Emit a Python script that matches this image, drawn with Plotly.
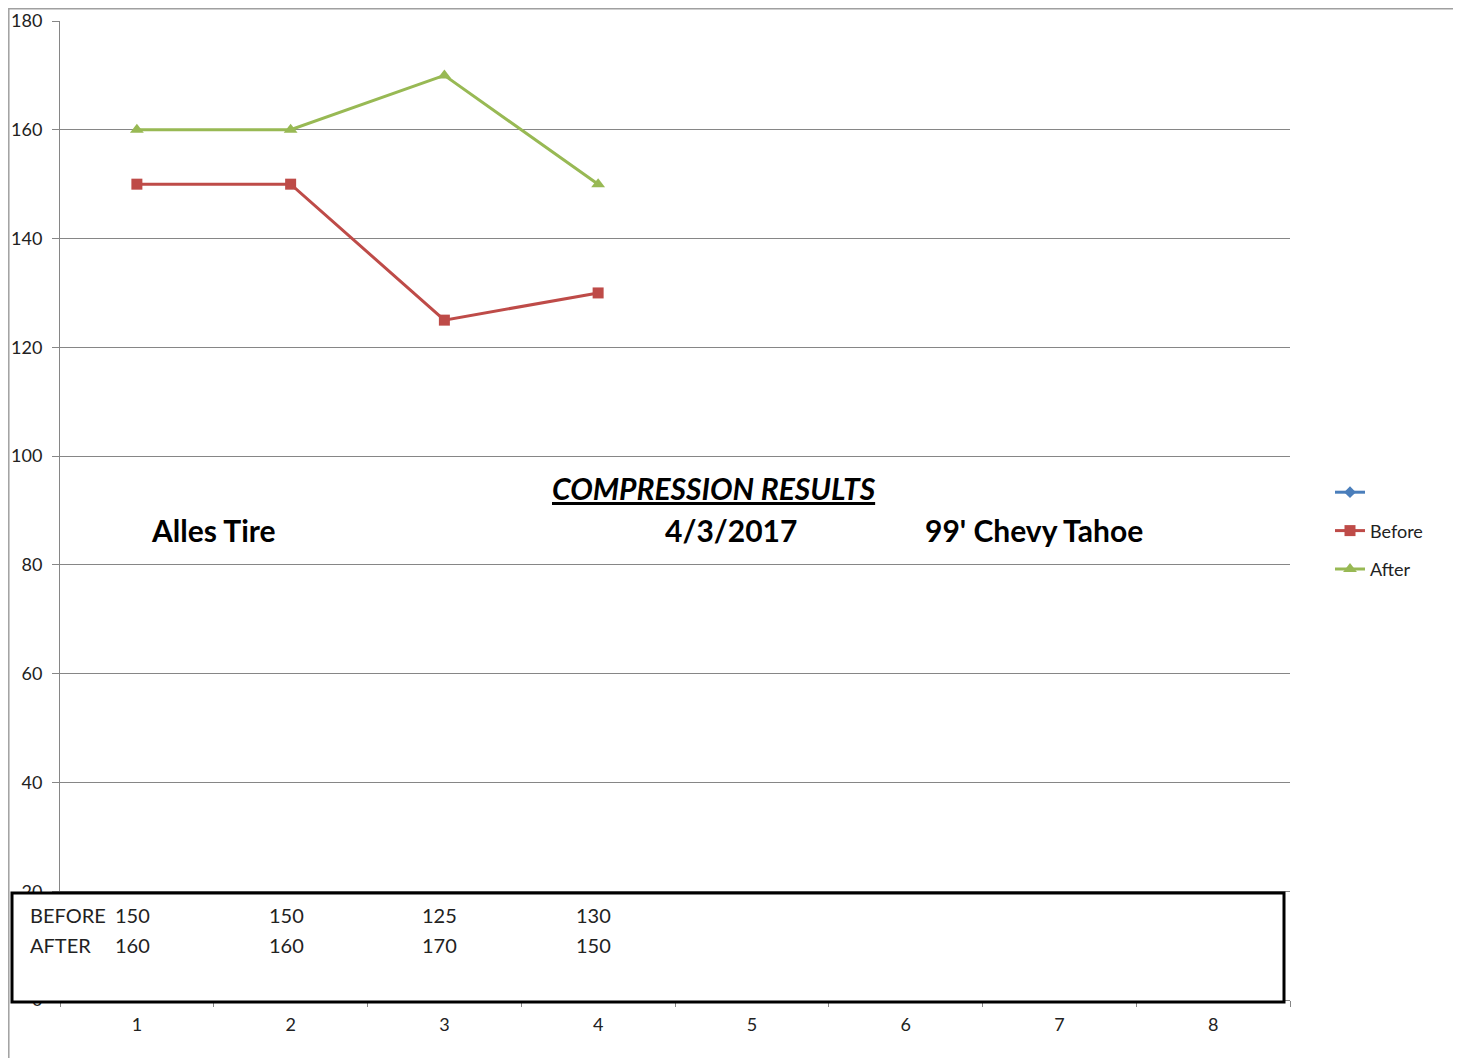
import plotly.graph_objects as go

cylinders = ["1", "2", "3", "4", "5", "6", "7", "8"]
before = [150, 150, 125, 130]
after = [160, 160, 170, 150]
y_ticks = [0, 20, 40, 60, 80, 100, 120, 140, 160, 180]

# page is drawn with an 8px body margin, so work in page pixels and shift
OFF = 8
W, H = 1461 - OFF, 1058 - OFF
L, R, T, B = 60 - OFF, 1461 - 1290, 21 - OFF, 1058 - 1000
pw, ph = W - L - R, H - T - B

def px_x(x):
    return (x - OFF - L) / pw

def px_y(y):
    return (H - B - (y - OFF)) / ph

FONT = "Lato, Open Sans, sans-serif"

fig = go.Figure()
fig.add_trace(go.Scatter(x=cylinders[:4], y=[None] * 4, mode="lines+markers", name=" ",
                         legendgroup="a",
                         line=dict(color="#4a7ebb", width=3),
                         marker=dict(symbol="diamond", size=9, color="#4a7ebb")))
fig.add_trace(go.Scatter(x=cylinders[:len(before)], y=before, mode="lines+markers", name="Before",
                         legendgroup="b",
                         line=dict(color="#be4b48", width=3),
                         marker=dict(symbol="square", size=11, color="#be4b48")))
fig.add_trace(go.Scatter(x=cylinders[:len(after)], y=after, mode="lines+markers", name="After",
                         legendgroup="c",
                         line=dict(color="#98b954", width=3),
                         marker=dict(symbol="triangle-up", size=12, color="#98b954")))

# header texts
heads = [
    ("<b><i><u>COMPRESSION RESULTS</u></i></b>", 714, 488),
    ("<b>Alles Tire</b>", 213, 530),
    ("<b>4/3/2017</b>", 731, 530),
    ("<b>99' Chevy Tahoe</b>", 1034, 530),
]
for txt, x, y in heads:
    fig.add_annotation(text=txt, x=px_x(x), y=px_y(y), xref="paper", yref="paper",
                       xanchor="center", yanchor="middle", showarrow=False,
                       font=dict(size=30, color="black", family=FONT))

# data table box
fig.add_shape(type="rect", xref="paper", yref="paper",
              x0=px_x(12), x1=px_x(1284), y0=px_y(1002), y1=px_y(893),
              line=dict(color="black", width=3), fillcolor="white", layer="above")
for label, vals, y in [("BEFORE", before, 915), ("AFTER", after, 945)]:
    fig.add_annotation(text=label, x=px_x(28), y=px_y(y), xref="paper", yref="paper",
                       xanchor="left", yanchor="middle", showarrow=False,
                       font=dict(size=20, color="#222", family=FONT))
    for i, v in enumerate(vals):
        fig.add_annotation(text=str(v), x=i - 0.03, y=px_y(y), xref="x", yref="paper",
                           xanchor="center", yanchor="middle", showarrow=False,
                           font=dict(size=20, color="#222", family=FONT))

# outer frame (kept inside the figure so it is not clipped)
fig.add_shape(type="rect", xref="paper", yref="paper",
              x0=px_x(8.8), x1=px_x(1459), y0=px_y(1070), y1=px_y(8.8),
              line=dict(color="#a0a0a0", width=1.5), layer="below")

fig.update_layout(
    width=W, height=H,
    margin=dict(l=L, r=R, t=T, b=B, autoexpand=False),
    paper_bgcolor="white",
    plot_bgcolor="white",
    font=dict(family=FONT, color="#222", size=17),
    showlegend=True,
    legend=dict(x=px_x(1330), y=px_y(531), xanchor="left", yanchor="middle",
                font=dict(size=18, color="#222"), tracegroupgap=12,
                bgcolor="rgba(0,0,0,0)", itemwidth=30),
)
fig.update_xaxes(type="category", categoryorder="array", categoryarray=cylinders,
                 range=[-0.5, 7.5], tickson="boundaries", ticks="outside", ticklen=6,
                 tickcolor="#868686", showline=True, linecolor="#868686", showgrid=False,
                 tickfont=dict(size=18), ticklabelstandoff=8, zeroline=False,
                 automargin=False)
fig.update_yaxes(range=[0, 180], tickvals=y_ticks, ticks="outside", ticklen=7,
                 tickcolor="#868686", showline=True, linecolor="#868686",
                 gridcolor="#868686", gridwidth=1, zeroline=False,
                 tickfont=dict(size=18), ticklabelstandoff=6, automargin=False)

fig.write_html("out.html")
